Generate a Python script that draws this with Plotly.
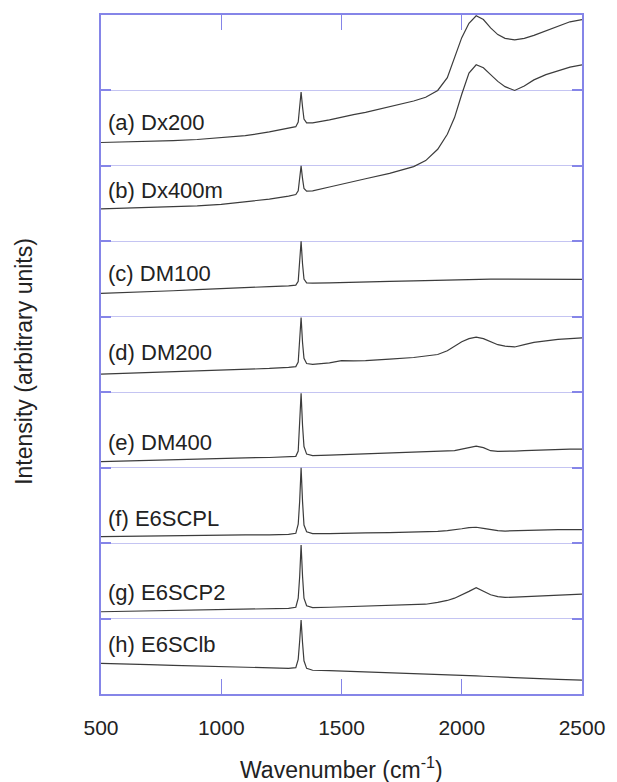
import plotly.graph_objects as go

# Wavenumber grid (cm^-1)
wavenumber = [500, 600, 700, 800, 900, 1000, 1100, 1200, 1280, 1310, 1320, 1326, 1332, 1338,
              1344, 1355, 1380, 1450, 1500, 1550, 1600, 1700, 1800, 1850, 1900, 1940, 1970,
              2000, 2030, 2060, 2090, 2120, 2150, 2180, 2220, 2260, 2300, 2350, 2400, 2450, 2500]

# Offset spectra (arbitrary units)
dx200 = [7.31, 7.315, 7.325, 7.335, 7.35, 7.37, 7.40, 7.45, 7.50, 7.52, 7.58, 7.75, 7.98, 7.78,
         7.62, 7.57, 7.57, 7.61, 7.65, 7.68, 7.71, 7.78, 7.86, 7.91, 8.00, 8.17, 8.45,
         8.70, 8.89, 8.99, 8.94, 8.83, 8.74, 8.69, 8.67, 8.69, 8.73, 8.79, 8.85, 8.91, 8.94]
dx400m = [6.43, 6.44, 6.445, 6.455, 6.47, 6.49, 6.52, 6.56, 6.60, 6.62, 6.67, 6.82, 7.00, 6.83,
          6.70, 6.665, 6.67, 6.72, 6.76, 6.79, 6.83, 6.90, 6.99, 7.07, 7.22, 7.42, 7.64,
          7.95, 8.23, 8.34, 8.30, 8.21, 8.12, 8.05, 8.00, 8.06, 8.14, 8.21, 8.26, 8.31, 8.34]
dm100 = [5.31, 5.32, 5.33, 5.345, 5.36, 5.37, 5.385, 5.40, 5.41, 5.42, 5.47, 5.68, 6.00, 5.70,
         5.50, 5.45, 5.445, 5.45, 5.455, 5.46, 5.465, 5.47, 5.475, 5.48, 5.485, 5.49, 5.49,
         5.495, 5.495, 5.50, 5.50, 5.50, 5.50, 5.50, 5.50, 5.50, 5.50, 5.50, 5.50, 5.50, 5.495]
dm200 = [4.24, 4.25, 4.26, 4.27, 4.28, 4.29, 4.30, 4.315, 4.33, 4.34, 4.40, 4.65, 4.99, 4.66,
         4.45, 4.38, 4.37, 4.39, 4.42, 4.415, 4.42, 4.44, 4.46, 4.48, 4.50, 4.55, 4.61,
         4.67, 4.71, 4.73, 4.71, 4.67, 4.63, 4.61, 4.60, 4.63, 4.66, 4.68, 4.70, 4.71, 4.72]
dm400 = [3.08, 3.09, 3.095, 3.10, 3.11, 3.12, 3.13, 3.135, 3.145, 3.15, 3.22, 3.55, 3.985, 3.56,
         3.28, 3.18, 3.16, 3.165, 3.17, 3.175, 3.18, 3.19, 3.20, 3.205, 3.21, 3.215, 3.225,
         3.245, 3.27, 3.285, 3.265, 3.225, 3.215, 3.215, 3.22, 3.225, 3.23, 3.235, 3.24, 3.245, 3.245]
e6scpl = [2.085, 2.09, 2.095, 2.10, 2.10, 2.105, 2.11, 2.11, 2.115, 2.13, 2.25, 2.55, 3.00, 2.55,
          2.24, 2.15, 2.125, 2.125, 2.13, 2.13, 2.135, 2.14, 2.145, 2.15, 2.155, 2.165, 2.175,
          2.19, 2.205, 2.21, 2.195, 2.175, 2.165, 2.16, 2.165, 2.17, 2.17, 2.175, 2.18, 2.18, 2.18]
e6scp2 = [1.09, 1.095, 1.10, 1.105, 1.11, 1.115, 1.12, 1.125, 1.135, 1.15, 1.27, 1.55, 1.975, 1.56,
          1.27, 1.17, 1.145, 1.15, 1.155, 1.16, 1.165, 1.17, 1.18, 1.19, 1.215, 1.24, 1.27,
          1.31, 1.36, 1.41, 1.36, 1.315, 1.29, 1.28, 1.285, 1.29, 1.295, 1.30, 1.31, 1.32, 1.325]
e6sclb = [0.405, 0.40, 0.39, 0.38, 0.37, 0.36, 0.355, 0.345, 0.34, 0.35, 0.46, 0.70, 0.98, 0.68,
          0.44, 0.34, 0.315, 0.31, 0.305, 0.30, 0.295, 0.285, 0.275, 0.27, 0.265, 0.26, 0.255,
          0.25, 0.245, 0.24, 0.235, 0.23, 0.225, 0.22, 0.215, 0.21, 0.205, 0.20, 0.195, 0.19, 0.185]

series = [dx200, dx400m, dm100, dm200, dm400, e6scpl, e6scp2, e6sclb]
labels = ["(a) Dx200", "(b) Dx400m", "(c) DM100", "(d) DM200", "(e) DM400",
          "(f) E6SCPL", "(g) E6SCP2", "(h) E6SClb"]
label_y = [7.58, 6.68, 5.57, 4.52, 3.34, 2.32, 1.35, 0.66]

x_ticks = [500, 1000, 1500, 2000, 2500]
y_grid = [0, 1, 2, 3, 4, 5, 6, 7, 8, 9]

FONT = "Liberation Sans, Arial, sans-serif"
FRAME = "#8585e8"
GRID = "#c4c4f2"
INK = "#3c3c3c"

fig = go.Figure()
for s in series:
    fig.add_trace(go.Scatter(x=wavenumber, y=s, mode="lines",
                             line=dict(color=INK, width=1.2), showlegend=False,
                             hoverinfo="skip"))

for lab, ly in zip(labels, label_y):
    fig.add_annotation(x=0.011, xref="paper", y=ly, yref="y", text=lab,
                       showarrow=False, xanchor="left", yanchor="middle",
                       font=dict(family=FONT, size=22, color="#222222"))

fig.add_annotation(x=0.5, xref="paper", y=-0.109, yref="paper",
                   text="Wavenumber (cm<sup>-1</sup>)", showarrow=False,
                   xanchor="center", yanchor="middle",
                   font=dict(family=FONT, size=23, color="#222222"))
fig.add_annotation(x=-0.159, xref="paper", y=0.49, yref="paper",
                   text="Intensity (arbitrary units)", showarrow=False, textangle=-90,
                   xanchor="center", yanchor="middle",
                   font=dict(family=FONT, size=23, color="#222222"))

fig.update_xaxes(range=[500, 2500], tickvals=x_ticks, ticks="inside", ticklen=15,
                 tickcolor=FRAME, tickwidth=1.2, showline=True, linecolor=FRAME,
                 linewidth=1.5, mirror="ticks", showgrid=False, zeroline=False,
                 ticklabelstandoff=14,
                 tickfont=dict(family=FONT, size=21, color="#222222"))
fig.update_yaxes(range=[0, 9], tickvals=y_grid, ticks="inside", ticklen=10,
                 tickcolor=FRAME, tickwidth=1.5, showline=True, linecolor=FRAME,
                 linewidth=1.5, mirror="ticks", showgrid=True, gridcolor=GRID,
                 gridwidth=1, zeroline=False, showticklabels=False)

fig.update_layout(width=617, height=782, margin=dict(l=101, r=26, t=15, b=88),
                  paper_bgcolor="white", plot_bgcolor="white",
                  font=dict(family=FONT))

fig.write_html("out.html")
